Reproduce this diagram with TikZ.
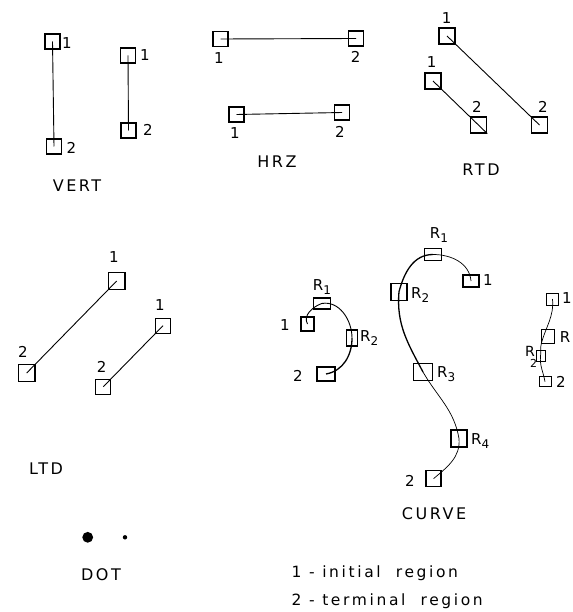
\documentclass[tikz,border=0pt]{standalone}
\usepackage{fontspec}
\setmainfont{DejaVu Sans}
\newfontfamily\plotfont[LetterSpace=16]{DejaVu Sans}
\newfontfamily\legfont[LetterSpace=17]{DejaVu Sans}
\newcommand\Rsub[1]{R\raisebox{-0.45ex}{\fontsize{12}{12}\selectfont #1}}
\begin{document}
\begin{tikzpicture}[x=1pt,y=-1pt,
  box/.style={draw, line width=1.1pt, minimum width=15pt, minimum height=15pt, inner sep=0pt},
  lbl/.style={inner sep=0pt, font=\fontsize{15}{15}\selectfont},
  ttl/.style={inner sep=0pt, font=\plotfont\fontsize{16}{16}\selectfont},
  leg/.style={inner sep=0pt, anchor=west, font=\legfont\fontsize{15.5}{15.5}\selectfont},
  link/.style={line width=0.9pt},
  thin link/.style={line width=0.7pt},
  thick link/.style={line width=1.3pt}]
\useasboundingbox (0,0) rectangle (572,612);

% ---------- VERT ----------
\node[box] (a1) at (52.5,41.5) {};
\node[box] (a2) at (54,146.5) {};
\node[lbl] (a1l) at (67,43) {1};
\node[lbl] (a2l) at (71.5,148) {2};
\draw[link] (a1.center) -- (a2.center);
\node[box] (b1) at (128,55.5) {};
\node[box] (b2) at (128.5,130.5) {};
\node[lbl] (b1l) at (145,55) {1};
\node[lbl] (b2l) at (148,130) {2};
\draw[link] (b1.center) -- (b2.center);
\node[ttl] (vert) at (77,186) {VERT};

% ---------- HRZ ----------
\node[box] (c1) at (220.5,39) {};
\node[box] (c2) at (356,38.5) {};
\node[lbl] (c1l) at (219,58) {1};
\node[lbl] (c2l) at (355.7,57) {2};
\draw[link] (c1.center) -- (c2.center);
\node[box] (d1) at (236.5,114.5) {};
\node[box] (d2) at (342,112.5) {};
\node[lbl] (d1l) at (235,133) {1};
\node[lbl] (d2l) at (340,131.7) {2};
\draw[link] (d1.center) -- (d2.center);
\node[ttl] (hrz) at (277,162) {HRZ};

% ---------- RTD ----------
\node[box, minimum size=16pt] (e1) at (447,36) {};
\node[box, minimum size=16pt] (e2) at (539.5,125) {};
\node[lbl] (e1l) at (446.7,18) {1};
\node[lbl] (e2l) at (543,107) {2};
\draw[link] (e1.center) -- (e2.center);
\node[box, minimum size=16pt] (f1) at (433,81) {};
\node[box, minimum size=16pt] (f2) at (478.7,125) {};
\node[lbl] (f1l) at (431.7,61.7) {1};
\node[lbl] (f2l) at (477,107) {2};
\draw[link] (f1.center) -- (f2.south east);
\node[ttl] (rtd) at (481,170) {RTD};

% ---------- LTD ----------
\node[box, minimum size=16.5pt] (g1) at (116.7,281) {};
\node[box, minimum size=16.5pt] (g2) at (26.7,373) {};
\node[lbl] (g1l) at (114,256.7) {1};
\node[lbl] (g2l) at (23,351.7) {2};
\draw[link] (g1.center) -- (g2.center);
\node[box] (h1) at (163,325.7) {};
\node[box] (h2) at (103.3,386.7) {};
\node[lbl] (h1l) at (160,305) {1};
\node[lbl] (h2l) at (101.7,366.7) {2};
\draw[link] (h1.center) -- (h2.center);
\node[ttl] (ltd) at (46,469) {LTD};

% ---------- CURVE, small loop ----------
\node[box, minimum width=13pt, minimum height=14pt] (k1) at (307.5,324) {};
\node[box, minimum width=17pt, minimum height=11pt] (kR1) at (321.7,303.5) {};
\node[box, minimum width=11pt, minimum height=16pt] (kR2) at (352,338) {};
\node[box, minimum width=18pt, minimum height=14pt] (k2) at (326,374) {};
\node[lbl] (kR1l) at (322,287) {\Rsub{1}};
\node[lbl] (k1l) at (285,325) {1};
\node[lbl, anchor=west] (kR2l) at (360,338) {\Rsub{2}};
\node[lbl] (k2l) at (298,376) {2};
\draw[link] (k1.center) to[out=120, in=200] (kR1.center)
  to[out=10, in=90] (kR2.center);
\draw[thick link] (kR2.center) to[out=-90, in=10] (k2.center);

% ---------- CURVE, S shape ----------
\node[box, minimum width=16pt, minimum height=12pt] (m1) at (471,281) {};
\node[box, minimum width=17pt, minimum height=12.5pt] (mR1) at (433,254.5) {};
\node[box, minimum width=16pt, minimum height=17pt] (mR2) at (399,291.7) {};
\node[box, minimum width=19pt, minimum height=17pt] (mR3) at (423,372) {};
\node[box, minimum width=16pt, minimum height=17pt] (mR4) at (459,438.5) {};
\node[box, minimum width=15pt, minimum height=16pt] (m2) at (433.5,478.7) {};
\node[lbl] (m1l) at (488,280) {1};
\node[lbl] (mR1l) at (439,235) {\Rsub{1}};
\node[lbl, anchor=west] (mR2l) at (411,295) {\Rsub{2}};
\node[lbl, anchor=west] (mR3l) at (437,374) {\Rsub{3}};
\node[lbl, anchor=west] (mR4l) at (471,441) {\Rsub{4}};
\node[lbl] (m2l) at (410,480.7) {2};
\draw[thin link] (m1.center) to[out=95, in=0] (mR1.center);
\draw[thick link] (mR1.center) to[out=180, in=75] (mR2.center)
  to[out=-95, in=118] (mR3.center);
\draw[thin link] (mR3.center) to[out=-60, in=100] (mR4.center)
  to[out=-85, in=40] (m2.center);
\node[ttl] (curve) at (434,514) {CURVE};

% ---------- CURVE, short ----------
\node[box, line width=0.9pt, minimum width=11.5pt, minimum height=12pt] (n1) at (552.5,299) {};
\node[box, line width=0.9pt, minimum width=13pt, minimum height=14pt] (nR) at (548.3,336) {};
\node[box, line width=0.9pt, minimum width=9pt, minimum height=11pt] (nR2) at (540.5,356) {};
\node[box, line width=0.9pt, minimum width=12pt, minimum height=10pt] (n2) at (545,381.7) {};
\node[lbl] (n1l) at (567,298) {1};
\node[lbl] (nRl) at (565,336.7) {R};
\node[lbl, font=\fontsize{14}{14}\selectfont] (nR2l) at (530,351.5) {R};
\node[lbl, font=\fontsize{11}{11}\selectfont] (nR2s) at (533.5,363.5) {2};
\node[lbl] (n2l) at (561,381.7) {2};
\draw[thin link] (n1.center) to[out=-85, in=75] (nR.south west)
  to[out=-105, in=80] (nR2.center) to[out=-95, in=100] (n2.center);

% ---------- DOT ----------
\fill (87.7,537.3) circle[radius=5.4pt];
\fill (125,537.3) circle[radius=2.2pt];
\node[ttl] (dot) at (101,575) {DOT};

% ---------- legend ----------
\node[leg] (leg1) at (291.5,573.5) {1 -\ initial\ \ region};
\node[leg] (leg2) at (291.5,601) {2 -\ terminal\ \ region};
\end{tikzpicture}
\end{document}
